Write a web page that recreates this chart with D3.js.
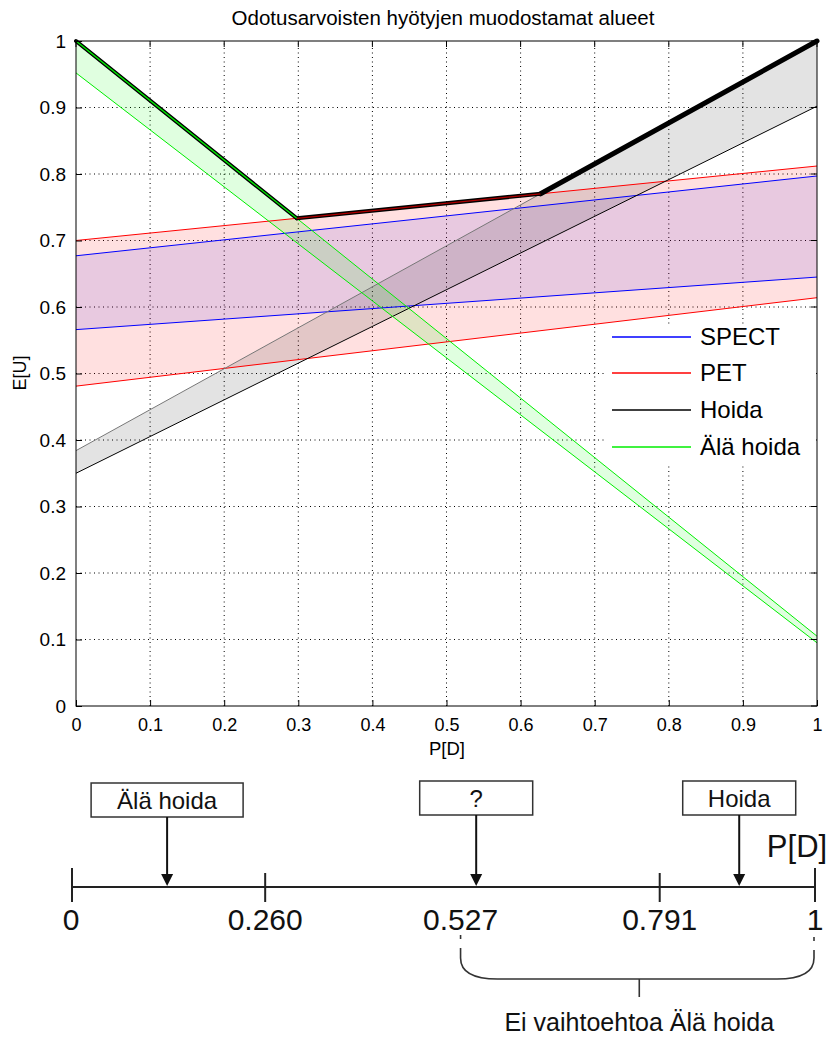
<!DOCTYPE html>
<html><head><meta charset="utf-8">
<script src="https://cdn.jsdelivr.net/npm/d3@7"></script>
<style>body{margin:0;background:#fff}svg{display:block}text{font-family:"Liberation Sans",Arial,sans-serif}</style>
</head><body>
<svg id="c" width="833" height="1037"></svg>
<script>
// ---- data ----
const pEnds = [0, 1];
const spectUpper = [0.677, 0.797];
const spectLower = [0.566, 0.645];
const petUpper = [0.700, 0.812];
const petLower = [0.481, 0.614];
const hoidaUpper = [0.384, 1.000];
const hoidaLower = [0.350, 0.902];
const alaUpper = [1.000, 0.105];
const alaLower = [0.952, 0.095];
const seriesNames = ["SPECT", "PET", "Hoida", "Älä hoida"];
const seriesColors = ["#0000ff", "#ff0000", "#000000", "#00ee00"];
const xTicks = [0,0.1,0.2,0.3,0.4,0.5,0.6,0.7,0.8,0.9,1];
const yTicks = [0,0.1,0.2,0.3,0.4,0.5,0.6,0.7,0.8,0.9,1];
const title = "Odotusarvoisten hyötyjen muodostamat alueet";
// bottom schematic
const thresholdValues = [0, 0.260, 0.527, 0.791, 1];
const thresholdLabels = ["0", "0.260", "0.527", "0.791", "1"];
const thresholdTicks = [0, 0.260, 0.791, 1];
const decisionLabels = ["Älä hoida", "?", "Hoida"];
const decisionPositions = [0.128, 0.544, 0.898];
const braceRange = [0.527, 1];
const braceLabel = "Ei vaihtoehtoa Älä hoida";

const svg = d3.select("#c");
const x = d3.scaleLinear().domain([0,1]).range([76,817]);
const y = d3.scaleLinear().domain([0,1]).range([706,41]);

// grid
const g = svg.append("g");
g.selectAll(".gx").data(xTicks.slice(1,-1)).join("line")
  .attr("x1", d=>x(d)).attr("x2", d=>x(d)).attr("y1", y(0)).attr("y2", y(1))
  .attr("stroke","#000").attr("stroke-width",1).attr("stroke-dasharray","1,3.5");
g.selectAll(".gy").data(yTicks.slice(1,-1)).join("line")
  .attr("y1", d=>y(d)).attr("y2", d=>y(d)).attr("x1", x(0)).attr("x2", x(1))
  .attr("stroke","#000").attr("stroke-width",1).attr("stroke-dasharray","1,3.5");

// bands
const bands = [
  {up: spectUpper, lo: spectLower, fill:"rgba(0,0,255,0.10)", color: seriesColors[0], upColor: seriesColors[0]},
  {up: petUpper, lo: petLower, fill:"rgba(255,0,0,0.12)", color: seriesColors[1], upColor: seriesColors[1]},
  {up: hoidaUpper, lo: hoidaLower, fill:"rgba(0,0,0,0.11)", color: "#000", upColor: "#777"},
  {up: alaUpper, lo: alaLower, fill:"rgba(0,255,0,0.12)", color: seriesColors[3], upColor: seriesColors[3]}
];
const area = d3.area().x((d,i)=>x(pEnds[i])).y0(d=>y(d[0])).y1(d=>y(d[1]));
const line = d3.line().x((d,i)=>x(pEnds[i])).y(d=>y(d));
bands.forEach(b=>{
  svg.append("path").datum(pEnds.map((p,i)=>[b.lo[i], b.up[i]])).attr("d", area).attr("fill", b.fill);
});
bands.forEach(b=>{
  svg.append("path").datum(b.lo).attr("d", line).attr("fill","none").attr("stroke", b.color).attr("stroke-width",1);
  svg.append("path").datum(b.up).attr("d", line).attr("fill","none").attr("stroke", b.upColor).attr("stroke-width",1);
});

// upper envelope (max of upper bounds)
const lin = arr => p => arr[0] + (arr[1]-arr[0])*p;
const uppers = [alaUpper, petUpper, hoidaUpper].map(lin);
const isect = (a,b) => {
  const a0=a(0), a1=a(1)-a(0), b0=b(0), b1=b(1)-b(0);
  return (b0-a0)/(a1-b1);
};
const p1 = isect(uppers[0], uppers[1]);
const p2 = isect(uppers[1], uppers[2]);
const segs = [
  {pts:[[0,uppers[0](0)],[p1,uppers[0](p1)]], inner: seriesColors[3], w:4},
  {pts:[[p1,uppers[1](p1)],[p2,uppers[1](p2)]], inner: "#b00000", w:4},
  {pts:[[p2,uppers[2](p2)],[1,uppers[2](1)]], inner: "#000", w:5}
];
const l2 = d3.line().x(d=>x(d[0])).y(d=>y(d[1]));
segs.forEach(s=>{
  svg.append("path").datum(s.pts).attr("d", l2).attr("fill","none").attr("stroke","#000").attr("stroke-width", s.w).attr("stroke-linecap","round");
});
segs.forEach(s=>{
  svg.append("path").datum(s.pts).attr("d", l2).attr("fill","none").attr("stroke", s.inner).attr("stroke-width", 1.3);
});

// axes frame + ticks
svg.append("rect").attr("x", x(0)).attr("y", y(1)).attr("width", x(1)-x(0)).attr("height", y(0)-y(1))
  .attr("fill","none").attr("stroke","#000").attr("stroke-width",1);
const ax = svg.append("g").attr("transform",`translate(0,${y(0)})`)
  .call(d3.axisBottom(x).tickValues(xTicks).tickFormat(d=>d3.format("")(d)).tickSizeInner(-6).tickSizeOuter(0).tickPadding(12));
ax.select(".domain").remove();
ax.selectAll("text").attr("font-size", 18).attr("font-family","Liberation Sans, Arial").attr("fill","#000");
const ay = svg.append("g").attr("transform",`translate(${x(0)},0)`)
  .call(d3.axisLeft(y).tickValues(yTicks).tickFormat(d=>d3.format("")(d)).tickSizeInner(-6).tickSizeOuter(0).tickPadding(10));
ay.select(".domain").remove();
ay.selectAll("text").attr("font-size", 19).attr("font-family","Liberation Sans, Arial").attr("fill","#000");
svg.append("g").selectAll("line").data(xTicks).join("line")
  .attr("x1",d=>x(d)).attr("x2",d=>x(d)).attr("y1",y(1)).attr("y2",y(1)+6).attr("stroke","#000");
svg.append("g").selectAll("line").data(yTicks).join("line")
  .attr("y1",d=>y(d)).attr("y2",d=>y(d)).attr("x1",x(1)).attr("x2",x(1)-6).attr("stroke","#000");

// labels
svg.append("text").attr("x", 443).attr("y", 25).attr("text-anchor","middle").attr("font-size", 20.5).text(title);
svg.append("text").attr("x", 447).attr("y", 755).attr("text-anchor","middle").attr("font-size", 18.5).text("P[D]");
svg.append("text").attr("transform","translate(26,373) rotate(-90)").attr("text-anchor","middle").attr("font-size", 18).text("E[U]");

// legend
const lg = svg.append("g");
lg.append("rect").attr("x", 606).attr("y", 324).attr("width", 210).attr("height", 139).attr("fill","#fff");
const rowY = [337, 373, 410, 447];
seriesNames.forEach((n,i)=>{
  lg.append("line").attr("x1",612).attr("x2",691).attr("y1",rowY[i]).attr("y2",rowY[i])
    .attr("stroke", seriesColors[i]).attr("stroke-width",1.5);
  lg.append("text").attr("x",700).attr("y",rowY[i]).attr("dy","0.35em").attr("font-size",24).text(n);
});

// ---- bottom schematic ----
const bx = d3.scaleLinear().domain([0,1]).range([72,815]);
const lineY = 887;
const sc = svg.append("g").attr("stroke","#222");
sc.append("line").attr("x1",bx(0)).attr("x2",bx(1)).attr("y1",lineY).attr("y2",lineY).attr("stroke-width",2);
thresholdTicks.forEach(t=>{
  const top = (t===0||t===1) ? lineY-19 : lineY-14;
  sc.append("line").attr("x1",bx(t)).attr("x2",bx(t)).attr("y1",top).attr("y2",lineY+15).attr("stroke-width",2);
});
const tl = svg.append("g");
thresholdValues.forEach((t,i)=>{
  tl.append("text").attr("x", bx(t) + (i===0?-1:0) + (i===2?-3:0)).attr("y", 930).attr("text-anchor","middle")
    .attr("font-size", 30).attr("fill","#111").text(thresholdLabels[i]);
});
svg.append("text").attr("x", 797).attr("y", 857).attr("text-anchor","middle").attr("font-size", 31).attr("fill","#111").text("P[D]");

const boxW = [152, 113, 113];
decisionLabels.forEach((lab,i)=>{
  const cx = bx(decisionPositions[i]);
  const by0 = i===0 ? 783 : 781, bh = 34;
  svg.append("rect").attr("x", cx-boxW[i]/2).attr("y", by0).attr("width", boxW[i]).attr("height", bh)
    .attr("fill","#fff").attr("stroke","#333").attr("stroke-width",1.5);
  svg.append("text").attr("x", cx).attr("y", by0+bh/2).attr("dy","0.36em").attr("text-anchor","middle")
    .attr("font-size", 24).attr("fill","#111").text(lab);
  svg.append("line").attr("x1",cx).attr("x2",cx).attr("y1",by0+bh).attr("y2",lineY-12).attr("stroke","#111").attr("stroke-width",2);
  svg.append("path").attr("d",`M${cx-6},${lineY-13}L${cx+6},${lineY-13}L${cx},${lineY-1}Z`).attr("fill","#111");
});

// brace
const L = bx(braceRange[0]) - 3, R = bx(braceRange[1]) - 1;
const by = 979, mid = (L+R)/2 + 2;
const br = svg.append("g").attr("stroke","#333").attr("fill","none").attr("stroke-width",1.6);
br.append("line").attr("x1",L).attr("x2",L).attr("y1",935).attr("y2",939);
br.append("line").attr("x1",R).attr("x2",R).attr("y1",937).attr("y2",941);
br.append("path").attr("d",`M${L},948 L${L},958 Q${L},${by} ${L+37},${by} L${R-37},${by} Q${R},${by} ${R},958 L${R},950`);
br.append("line").attr("x1",mid).attr("x2",mid).attr("y1",by).attr("y2",997);
svg.append("text").attr("x", mid).attr("y", 1031).attr("text-anchor","middle").attr("font-size", 25).attr("fill","#111").text(braceLabel);
</script>
</body></html>
